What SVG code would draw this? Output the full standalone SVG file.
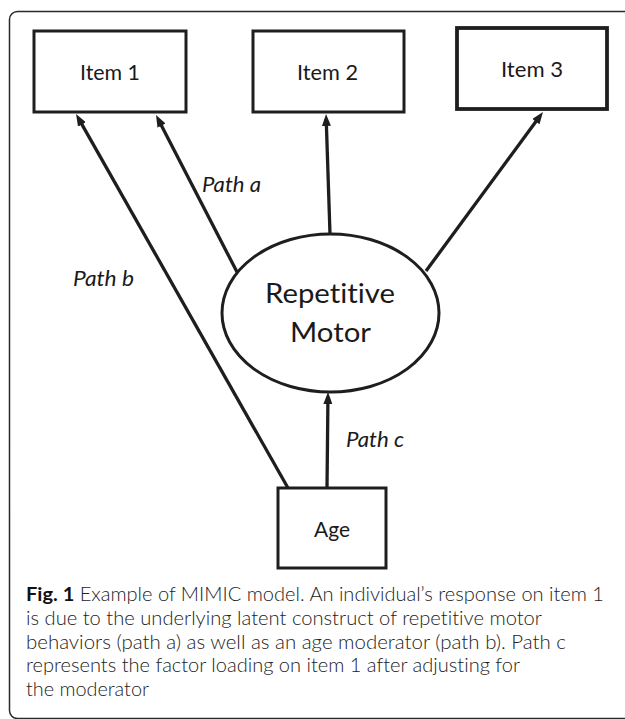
<svg xmlns="http://www.w3.org/2000/svg" width="625" height="719" viewBox="0 0 625 719">
<defs>
<style>
text{font-variant-ligatures:none;font-feature-settings:"liga" 0,"dlig" 0}
.frame{fill:none;stroke:#2a2a2a;stroke-width:1.5}
.box{fill:#fff;stroke:#1e1e1e;stroke-width:3}
.oval{fill:#fff;stroke:#1e1e1e;stroke-width:3}
.edge{fill:none;stroke:#1e1e1e;stroke-width:3.3;marker-end:url(#arr)}
.lbl{font-family:Lato,"Open Sans","Liberation Sans",sans-serif;fill:#1a1a1a;text-anchor:middle}
.path{font-family:Lato,"Open Sans","Liberation Sans",sans-serif;font-style:italic;font-size:21px;fill:#1a1a1a}
.cap{font-family:Lato,"Open Sans","Liberation Sans",sans-serif;font-size:19px;font-weight:300;fill:#222}
.capb{font-weight:700;fill:#111}
</style>
<marker id="arr" viewBox="0 0 12 9" refX="7" refY="4.5" markerWidth="12" markerHeight="9" markerUnits="userSpaceOnUse" orient="auto">
<path d="M0,0 L12,4.5 L0,9 z" fill="#1e1e1e"/>
</marker>
</defs>
<rect class="frame" x="9.5" y="11.5" width="700" height="707" rx="8" ry="8"/>
<g id="connectors">
<line class="edge" x1="237" y1="272" x2="158.3" y2="119.4"/>
<line class="edge" x1="288" y1="488" x2="78.5" y2="118.4"/>
<line class="edge" x1="330" y1="234" x2="326.2" y2="119"/>
<line class="edge" x1="426" y1="271" x2="540" y2="116"/>
<line class="edge" x1="327" y1="488" x2="327.95" y2="397"/>
</g>
<g id="item1">
<rect class="box" x="34" y="31" width="152" height="81"/>
<text class="lbl" x="110" y="80" font-size="21" textLength="60" lengthAdjust="spacingAndGlyphs">Item 1</text>
</g>
<g id="item2">
<rect class="box" x="253" y="31" width="151" height="81"/>
<text class="lbl" x="327.5" y="80" font-size="21" textLength="61" lengthAdjust="spacingAndGlyphs">Item 2</text>
</g>
<g id="item3">
<rect class="box" x="457" y="28" width="150" height="81" style="stroke-width:3.8"/>
<text class="lbl" x="532" y="77" font-size="21" textLength="62" lengthAdjust="spacingAndGlyphs">Item 3</text>
</g>
<g id="repetitive-motor">
<ellipse class="oval" cx="330.5" cy="313" rx="108.5" ry="79"/>
<text class="lbl" x="330" y="303" font-size="27" textLength="130" lengthAdjust="spacingAndGlyphs">Repetitive</text>
<text class="lbl" x="330.5" y="342" font-size="27" textLength="81" lengthAdjust="spacingAndGlyphs">Motor</text>
</g>
<g id="age">
<rect class="box" x="278" y="488" width="108" height="80"/>
<text class="lbl" x="332" y="537" font-size="22" textLength="36" lengthAdjust="spacingAndGlyphs">Age</text>
</g>
<g id="labels">
<text class="path" x="202" y="192" textLength="59" lengthAdjust="spacingAndGlyphs">Path a</text>
<text class="path" x="73" y="286" textLength="61" lengthAdjust="spacingAndGlyphs">Path b</text>
<text class="path" x="346" y="447" textLength="58" lengthAdjust="spacingAndGlyphs">Path c</text>
</g>
<g id="caption">
<text class="cap" x="26" y="601" textLength="578" lengthAdjust="spacingAndGlyphs"><tspan class="capb">Fig. 1</tspan> Example of MIMIC model. An individual’s response on item 1</text>
<text class="cap" x="26" y="625" textLength="516" lengthAdjust="spacingAndGlyphs">is due to the underlying latent construct of repetitive motor</text>
<text class="cap" x="26" y="648.5" textLength="540" lengthAdjust="spacingAndGlyphs">behaviors (path a) as well as an age moderator (path b). Path c</text>
<text class="cap" x="26" y="672" textLength="494" lengthAdjust="spacingAndGlyphs">represents the factor loading on item 1 after adjusting for</text>
<text class="cap" x="26" y="696" textLength="123" lengthAdjust="spacingAndGlyphs">the moderator</text>
</g>
</svg>
